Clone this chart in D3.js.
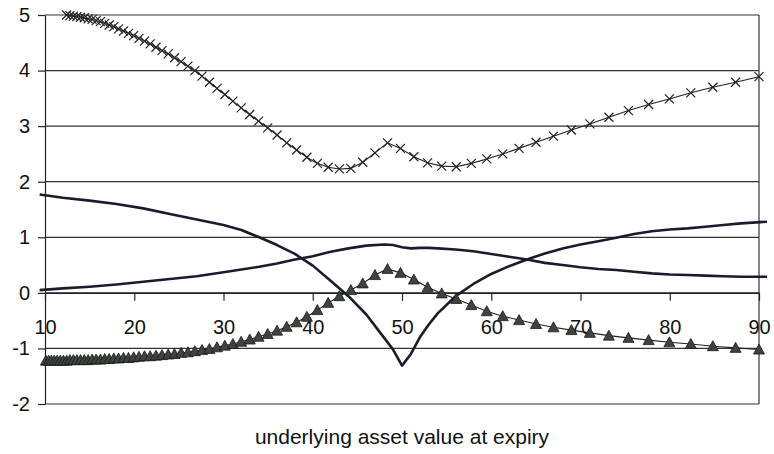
<!DOCTYPE html>
<html>
<head>
<meta charset="utf-8">
<script src="https://cdn.jsdelivr.net/npm/d3@7"></script>
<style>
  body { margin: 0; background: #fff; }
  text { font-family: Arial, "Liberation Sans", sans-serif; fill: #111; }
</style>
</head>
<body>
<div id="chart"></div>
<script>
// x positions of the marker series (same grid for crosses and triangles)
const gridX = [10.10, 10.40, 10.71, 11.04, 11.37, 11.71, 12.06, 12.42, 12.79, 13.18,
  13.57, 13.98, 14.40, 14.83, 15.28, 15.73, 16.21, 16.69, 17.19, 17.71,
  18.24, 18.79, 19.35, 19.93, 20.53, 21.15, 21.78, 22.43, 23.11, 23.80,
  24.51, 25.25, 26.01, 26.79, 27.59, 28.42, 29.27, 30.15, 31.05, 31.98,
  32.94, 33.93, 34.95, 36.00, 37.08, 38.19, 39.34, 40.52, 41.73, 42.98,
  44.27, 45.60, 46.97, 48.38, 49.83, 51.33, 52.87, 54.45, 56.08, 57.77,
  59.50, 61.29, 63.12, 65.02, 66.97, 68.98, 71.05, 73.18, 75.37, 77.63,
  79.96, 82.36, 84.83, 87.38, 90.00];

// crosses series (off the top of the chart for the first points)
const crossVals = [null, null, null, null, null, null, null, 5.00, 4.99, 4.98,
  4.97, 4.96, 4.95, 4.93, 4.92, 4.90, 4.88, 4.85, 4.82, 4.79,
  4.75, 4.71, 4.67, 4.63, 4.58, 4.53, 4.48, 4.42, 4.36, 4.30,
  4.23, 4.16, 4.08, 4.00, 3.90, 3.79, 3.68, 3.57, 3.45, 3.33,
  3.21, 3.09, 2.97, 2.84, 2.70, 2.57, 2.44, 2.33, 2.26, 2.23,
  2.24, 2.35, 2.52, 2.70, 2.60, 2.45, 2.34, 2.28, 2.27, 2.33,
  2.41, 2.50, 2.60, 2.71, 2.82, 2.93, 3.04, 3.16, 3.28, 3.39,
  3.49, 3.60, 3.70, 3.79, 3.89];

// triangles series
const triVals = [-1.22, -1.22, -1.22, -1.22, -1.22, -1.22, -1.22, -1.22, -1.21, -1.21,
  -1.21, -1.21, -1.21, -1.21, -1.20, -1.20, -1.20, -1.19, -1.19, -1.18,
  -1.18, -1.17, -1.17, -1.16, -1.15, -1.14, -1.14, -1.13, -1.12, -1.11,
  -1.10, -1.08, -1.07, -1.05, -1.03, -1.01, -0.98, -0.95, -0.92, -0.88,
  -0.84, -0.79, -0.74, -0.68, -0.61, -0.53, -0.43, -0.31, -0.18, -0.06,
  0.05, 0.17, 0.32, 0.43, 0.36, 0.24, 0.10, -0.01, -0.11, -0.22,
  -0.33, -0.42, -0.49, -0.56, -0.62, -0.67, -0.72, -0.77, -0.81, -0.85,
  -0.89, -0.92, -0.96, -0.99, -1.02];

// x positions of the two plain lines
const lineX = [9.4, 12, 15, 18, 21, 24, 27, 30, 32, 34,
  36, 38, 40, 42, 44, 46, 48, 49, 50, 51,
  52, 53, 54, 56, 58, 60, 62, 64, 66, 68,
  70, 72, 74, 76, 78, 80, 82, 84, 86, 88, 90.9];

// V shaped line
const vVals = [1.77, 1.71, 1.66, 1.60, 1.52, 1.42, 1.32, 1.22, 1.13, 1.00,
  0.86, 0.70, 0.49, 0.22, -0.06, -0.39, -0.81, -1.02, -1.31, -1.10,
  -0.80, -0.57, -0.37, -0.06, 0.16, 0.34, 0.48, 0.60, 0.71, 0.80,
  0.87, 0.93, 0.99, 1.06, 1.11, 1.14, 1.16, 1.19, 1.22, 1.25, 1.28];

// hump shaped line
const humpVals = [0.05, 0.08, 0.11, 0.15, 0.20, 0.25, 0.30, 0.37, 0.42, 0.47,
  0.53, 0.60, 0.66, 0.74, 0.80, 0.85, 0.87, 0.86, 0.82, 0.80,
  0.81, 0.81, 0.80, 0.78, 0.75, 0.70, 0.65, 0.60, 0.54, 0.50,
  0.46, 0.43, 0.41, 0.38, 0.35, 0.33, 0.32, 0.31, 0.30, 0.29, 0.29];

const xTicks = [10, 20, 30, 40, 50, 60, 70, 80, 90];
const yTicks = [-2, -1, 0, 1, 2, 3, 4, 5];
const xTitle = "underlying asset value at expiry";

// dimensions
const W = 774, H = 454;
const margin = {top: 15, right: 15, bottom: 50, left: 45};
const width = W - margin.left - margin.right,
      height = H - margin.top - margin.bottom;

const svg = d3.select("#chart")
  .append("svg")
    .attr("width", W)
    .attr("height", H);

const g = svg.append("g")
  .attr("transform", `translate(${margin.left},${margin.top})`);

const x = d3.scaleLinear().domain([10, 90]).range([0, width]);
const y = d3.scaleLinear().domain([-2, 5]).range([height, 0]);

// gridlines
g.append("g")
  .selectAll("line")
  .data(yTicks)
  .join("line")
    .attr("x1", 0)
    .attr("x2", width)
    .attr("y1", d => y(d))
    .attr("y2", d => y(d))
    .attr("stroke", "#333")
    .attr("stroke-width", 1.2);

// right border
g.append("line")
  .attr("x1", width).attr("x2", width)
  .attr("y1", 0).attr("y2", height)
  .attr("stroke", "#333")
  .attr("stroke-width", 1.2);

// y axis (plain hyphen for negatives)
const yAxis = g.append("g")
  .call(d3.axisLeft(y).tickValues(yTicks).tickFormat(d => String(d))
    .tickSizeInner(7).tickSizeOuter(0).tickPadding(8));
yAxis.selectAll("text").attr("font-size", 20).style("font-family", "Arial, 'Liberation Sans', sans-serif");

// x axis sits at y = 0
const xAxis = g.append("g")
  .attr("transform", `translate(0,${y(0)})`)
  .call(d3.axisBottom(x).tickValues(xTicks).tickSizeInner(8).tickSizeOuter(0).tickPadding(19));
xAxis.selectAll("text").attr("font-size", 20).style("font-family", "Arial, 'Liberation Sans', sans-serif");

[yAxis, xAxis].forEach(a => {
  a.selectAll("path,line").attr("stroke", "#222").attr("stroke-width", 1.2);
});

// axis title
svg.append("text")
  .attr("x", margin.left + width / 2)
  .attr("y", 444)
  .attr("text-anchor", "middle")
  .attr("font-size", 21)
  .text(xTitle);

// plain lines
const plain = d3.line()
  .x(d => x(d[0]))
  .y(d => y(d[1]));

[vVals, humpVals].forEach(vals => {
  g.append("path")
    .datum(lineX.map((v, i) => [v, vals[i]]))
    .attr("fill", "none")
    .attr("stroke", "#1b1b2e")
    .attr("stroke-width", 2.6)
    .attr("stroke-linejoin", "round")
    .attr("d", plain);
});

// crosses series
const crossData = gridX.map((v, i) => [v, crossVals[i]]).filter(d => d[1] !== null);
g.append("path")
  .datum(crossData)
  .attr("fill", "none")
  .attr("stroke", "#222")
  .attr("stroke-width", 1.1)
  .attr("d", plain);

const cs = 4.5;
g.append("g")
  .selectAll("path")
  .data(crossData)
  .join("path")
    .attr("transform", d => `translate(${x(d[0])},${y(d[1])})`)
    .attr("d", `M${-cs},${-cs}L${cs},${cs}M${-cs},${cs}L${cs},${-cs}`)
    .attr("stroke", "#222")
    .attr("stroke-width", 1.2);

// triangles series
const triData = gridX.map((v, i) => [v, triVals[i]]);
g.append("path")
  .datum(triData)
  .attr("fill", "none")
  .attr("stroke", "#222")
  .attr("stroke-width", 1.1)
  .attr("d", plain);

g.append("g")
  .selectAll("path")
  .data(triData)
  .join("path")
    .attr("transform", d => `translate(${x(d[0])},${y(d[1])})`)
    .attr("d", "M0,-5.5L5.5,4.5L-5.5,4.5Z")
    .attr("fill", "#3d443d")
    .attr("stroke", "#1a1a1a")
    .attr("stroke-width", 0.8);
</script>
</body>
</html>
